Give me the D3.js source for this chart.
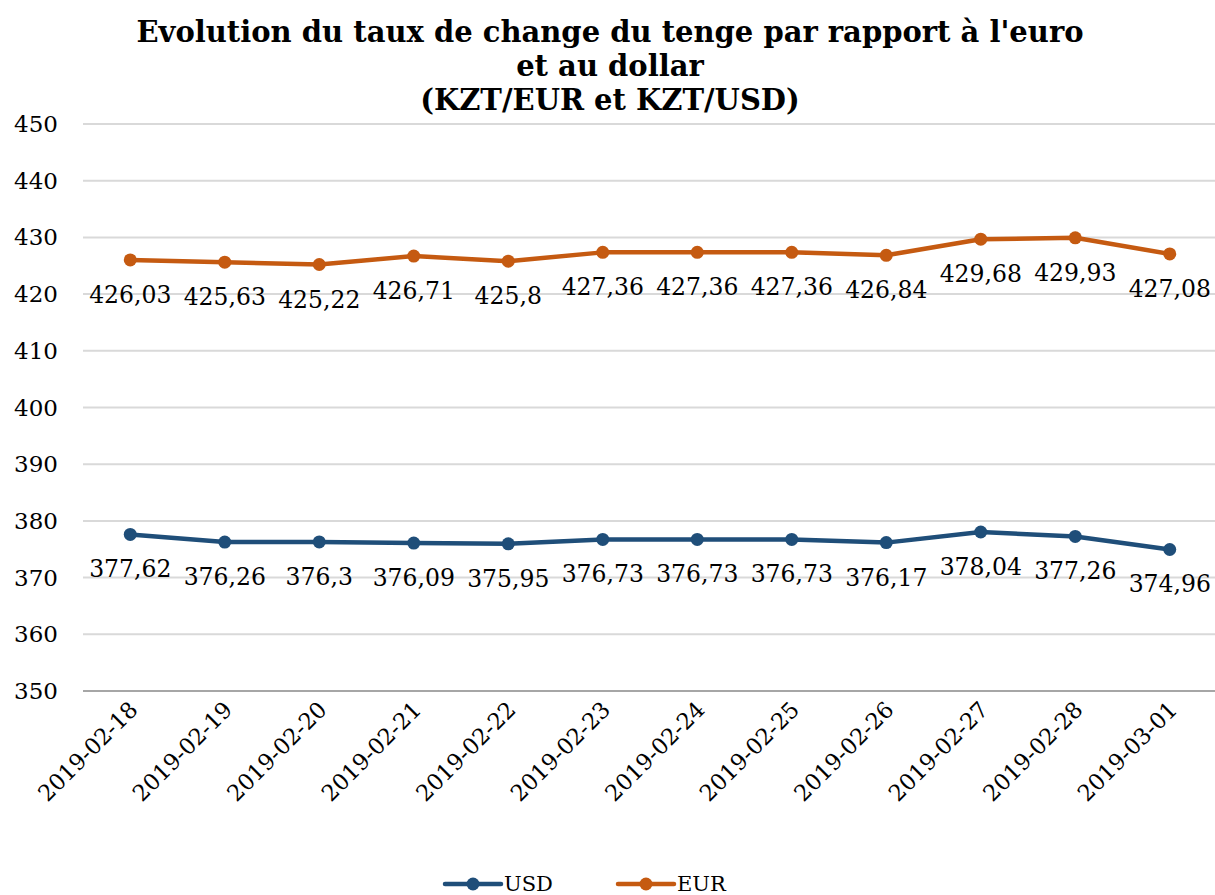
<!DOCTYPE html>
<html>
<head>
<meta charset="utf-8">
<script src="https://cdn.jsdelivr.net/npm/d3@7"></script>
<style>
body { margin: 0; background: #fff; }
</style>
</head>
<body>
<div id="chart"></div>
<script>
var w = 1215, h = 895;

var dates = ["2019-02-18","2019-02-19","2019-02-20","2019-02-21","2019-02-22","2019-02-23",
             "2019-02-24","2019-02-25","2019-02-26","2019-02-27","2019-02-28","2019-03-01"];
var usd = [377.62, 376.26, 376.3, 376.09, 375.95, 376.73, 376.73, 376.73, 376.17, 378.04, 377.26, 374.96];
var eur = [426.03, 425.63, 425.22, 426.71, 425.8, 427.36, 427.36, 427.36, 426.84, 429.68, 429.93, 427.08];
var yTicks = [350, 360, 370, 380, 390, 400, 410, 420, 430, 440, 450];
var titleLines = ["Evolution du taux de change du tenge par rapport à l'euro", "et au dollar", "(KZT/EUR et KZT/USD)"];

var colUsd = "#1f4e79", colEur = "#c55a11";
var serif = "'DejaVu Serif', serif";

var svg = d3.select("#chart").append("svg").attr("width", w).attr("height", h)
  .attr("font-family", serif);

var x = d3.scaleBand().domain(dates).range([83, 1217]);
var y = d3.scaleLinear().domain([350, 450]).range([691, 124]);

// gridlines
svg.selectAll(".grid").data(yTicks).enter().append("line")
  .attr("x1", 83).attr("x2", 1217)
  .attr("y1", function(d) { return y(d); })
  .attr("y2", function(d) { return y(d); })
  .attr("stroke", function(d) { return d == 350 ? "#a6a6a6" : "#d9d9d9"; })
  .attr("stroke-width", 2);

// y labels
svg.selectAll(".ylab").data(yTicks).enter().append("text")
  .text(function(d) { return d; })
  .attr("x", 58).attr("y", function(d) { return y(d) + 8; })
  .attr("text-anchor", "end").attr("font-size", 23);

// x labels
svg.selectAll(".xlab").data(dates).enter().append("text")
  .text(function(d) { return d; })
  .attr("text-anchor", "end").attr("font-size", 22.5)
  .attr("transform", function(d) {
    return "translate(" + (x(d) + x.bandwidth() / 2 + 9) + ",711) rotate(-45)";
  });

// title
svg.selectAll(".title").data(titleLines).enter().append("text")
  .text(function(d) { return d; })
  .attr("x", 610).attr("y", function(d, i) { return 42 + i * 34; })
  .attr("text-anchor", "middle")
  .attr("font-weight", "bold").attr("font-size", 29);

var line = d3.line()
  .x(function(d, i) { return x(dates[i]) + x.bandwidth() / 2; })
  .y(function(d) { return y(d); });

function drawSeries(vals, col) {
  svg.append("path").datum(vals)
    .attr("d", line).attr("fill", "none")
    .attr("stroke", col).attr("stroke-width", 4.5).attr("stroke-linejoin", "round");
  svg.selectAll(null).data(vals).enter().append("circle")
    .attr("cx", function(d, i) { return x(dates[i]) + x.bandwidth() / 2; })
    .attr("cy", function(d) { return y(d); })
    .attr("r", 6.5).attr("fill", col);
  svg.selectAll(null).data(vals).enter().append("text")
    .text(function(d) { return String(d).replace(".", ","); })
    .attr("x", function(d, i) { return x(dates[i]) + x.bandwidth() / 2; })
    .attr("y", function(d) { return y(d) + 43; })
    .attr("text-anchor", "middle").attr("font-size", 23.5);
}

drawSeries(eur, colEur);
drawSeries(usd, colUsd);

// legend
var leg = [["USD", colUsd, 445], ["EUR", colEur, 618]];
leg.forEach(function(l) {
  svg.append("line").attr("x1", l[2]).attr("x2", l[2] + 56)
    .attr("y1", 884).attr("y2", 884)
    .attr("stroke", l[1]).attr("stroke-width", 4.5).attr("stroke-linecap", "round");
  svg.append("circle").attr("cx", l[2] + 28).attr("cy", 884).attr("r", 6.5).attr("fill", l[1]);
  svg.append("text").text(l[0]).attr("x", l[2] + 59).attr("y", 891).attr("font-size", 21);
});
</script>
</body>
</html>
